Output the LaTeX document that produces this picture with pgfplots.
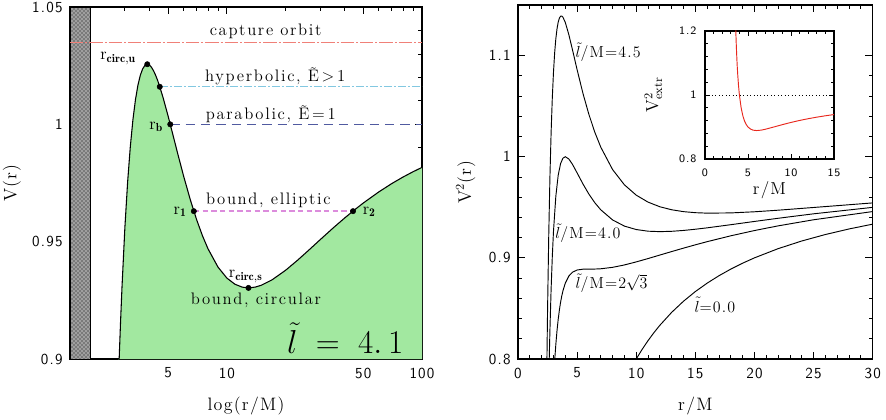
\documentclass[border=0pt]{standalone}
\usepackage{fontspec}
\usepackage{pgfplots}
\pgfplotsset{compat=1.18}
\usepackage{pgfplotstable}
\usetikzlibrary{patterns}
\newfontfamily\spaced[LetterSpace=10]{Latin Modern Roman}
\newfontfamily\spacedb[LetterSpace=7]{Latin Modern Roman}
\newfontfamily\sfspaced[LetterSpace=8]{Latin Modern Sans}
\definecolor{fillgreen}{RGB}{162,232,160}
\definecolor{capt}{RGB}{240,128,120}
\definecolor{hyp}{RGB}{130,200,225}
\definecolor{para}{RGB}{80,90,160}
\definecolor{ell}{RGB}{220,140,220}
\definecolor{redc}{RGB}{232,40,30}

\pgfplotstableread{
r v
2.79 0.89463
2.805 0.90014
2.85 0.91550
2.9 0.93067
3.0 0.95593
3.1 0.97553
3.2 0.99060
3.3 1.00203
3.4 1.01053
3.5 1.01668
3.6 1.02092
3.7 1.02363
3.8 1.02511
3.9 1.02561
4.0 1.02531
4.1 1.02439
4.2 1.02297
4.3 1.02117
4.4 1.01907
4.5 1.01674
4.7 1.01163
5.0 1.00344
5.3 0.99525
5.6 0.98745
6.0 0.97796
6.5 0.96776
7.0 0.95933
7.5 0.95249
8 0.94699
9 0.93919
10 0.93448
11 0.93185
12 0.93061
13 0.93032
14 0.93066
15 0.93142
17 0.93368
20 0.93782
23 0.94206
26 0.94603
30 0.95077
35 0.95580
40 0.95998
45 0.96349
50 0.96646
60 0.97118
70 0.97476
80 0.97756
90 0.97981
100 0.98165
}\leftcurve

\pgfplotstableread{
r v
2.44 0.79368
2.5 0.84800
2.6 0.92205
2.7 0.97942
2.8 1.02369
2.9 1.05761
3.0 1.08333
3.1 1.10255
3.2 1.11658
3.3 1.12647
3.4 1.13307
3.5 1.13703
3.6 1.13889
3.7 1.13908
3.8 1.13796
4.0 1.13281
4.3 1.12068
4.6 1.10613
5.0 1.08600
5.5 1.06236
6.0 1.04167
6.5 1.02412
7.0 1.00948
8 0.98731
9 0.97222
10 0.96200
11 0.95511
12 0.95052
13 0.94754
14 0.94570
15 0.94467
16 0.94421
18 0.94444
20 0.94556
22 0.94713
25 0.94981
30 0.95433
}\lfourfive

\pgfplotstableread{
r v
2.64 0.79896
2.7 0.82828
2.8 0.86881
2.9 0.90078
3.0 0.92593
3.2 0.96094
3.4 0.98168
3.6 0.99314
3.8 0.99854
4.0 1.00000
4.3 0.99774
4.6 0.99260
5.0 0.98400
5.5 0.97295
6.0 0.96296
6.5 0.95448
7.0 0.94752
8 0.93750
9 0.93141
10 0.92800
11 0.92637
12 0.92593
13 0.92626
14 0.92711
15 0.92830
16 0.92969
18 0.93279
20 0.93600
22 0.93914
25 0.94355
30 0.94993
}\lfour

\pgfplotstableread{
r v
3.11 0.79973
3.2 0.81445
3.3 0.82803
3.4 0.83920
3.5 0.84840
3.6 0.85597
3.7 0.86220
3.8 0.86733
4.0 0.87500
4.3 0.88202
4.6 0.88576
5.0 0.88800
5.5 0.88881
6.0 0.88889
6.5 0.88894
7.0 0.88921
8 0.89063
9 0.89300
10 0.89600
11 0.89932
12 0.90278
13 0.90624
14 0.90962
15 0.91289
16 0.91602
18 0.92181
20 0.92700
22 0.93163
25 0.93766
30 0.94578
}\ltwor

\pgfplotstableread{
r v
10 0.80000
10.5 0.80952
11 0.81818
11.5 0.82609
12 0.83333
13 0.84615
14 0.85714
15 0.86667
16 0.87500
17 0.88235
18 0.88889
19 0.89474
20 0.90000
22 0.90909
24 0.91667
26 0.92308
28 0.92857
30 0.93333
}\lzero

\pgfplotstableread{
r v
3.58 1.20227
3.6 1.18519
3.65 1.14752
3.7 1.11583
3.75 1.08889
3.8 1.06579
3.9 1.02849
4.0 1.00000
4.2 0.96032
4.4 0.93507
4.6 0.91848
4.8 0.90741
5.0 0.90000
5.3 0.89336
5.6 0.89011
6.0 0.88889
6.5 0.89011
7 0.89286
8 0.90000
9 0.90741
10 0.91429
11 0.92045
12 0.92593
13 0.93077
14 0.93506
15 0.93889
}\vextr

\pgfplotsset{
  myax/.style={
    scale only axis,
    axis line style={line width=0.9pt},
    tick align=inside, tick pos=both,
    major tick length=5.5pt, minor tick length=3pt,
    every tick/.style={black, line width=0.6pt},
    tick label style={font=\sfspaced\fontsize{11.5}{13}\selectfont},
    xticklabel style={yshift=-3pt},
    yticklabel style={xshift=-2pt},
    label style={font=\spacedb\fontsize{13.5}{15}\selectfont},
  },
}
\tikzset{txt/.style={font=\spaced\fontsize{12.5}{14}\selectfont, inner sep=0pt},
         txtb/.style={font=\spacedb\fontsize{12}{14}\selectfont, inner sep=0pt}}

\begin{document}
\begin{tikzpicture}
% ---------------- left panel ----------------
\begin{axis}[myax,
  at={(52.5pt,45pt)}, anchor=south west,
  width=264pt, height=264pt,
  xmode=log, xmin=1.57, xmax=100, ymin=0.9, ymax=1.05,
  xtick={5,10,50,100}, xticklabels={5,10,50,100},
  minor xtick={3,4,6,7,8,9,20,30,40,60,70,80,90},
  ytick={0.9,0.95,1,1.05}, yticklabels={0.9,0.95,1,1.05},
  minor ytick={0.91,0.92,0.93,0.94,0.96,0.97,0.98,0.99,1.01,1.02,1.03,1.04},
  xlabel={log(r/M)}, ylabel={V(r)},
  xlabel style={at={(axis description cs:0.5,0)}, anchor=center, yshift=-35pt},
  ylabel style={at={(axis description cs:-0.165,0.5)}, anchor=center},
]
\addplot[draw=black, line width=0.6pt, fill=gray!75, postaction={pattern=crosshatch dots, pattern color=black}]
  coordinates {(1.57,1.05) (2,1.05)} \closedcycle;
\addplot[draw=none, fill=fillgreen] table[x=r,y=v] {\leftcurve} \closedcycle;
\addplot[black, line width=0.8pt] table[x=r,y=v] {\leftcurve};
\addplot[capt, line width=1pt, dash pattern=on 10pt off 1.5pt on 1.5pt off 1.5pt] coordinates {(1.57,1.035) (100,1.035)};
\addplot[hyp, line width=1pt, dash pattern=on 6pt off 1.5pt on 1.5pt off 1.5pt] coordinates {(4.529,1.016) (100,1.016)};
\addplot[para, line width=1pt, dash pattern=on 7pt off 4.5pt] coordinates {(5.125,1) (100,1)};
\addplot[ell, line width=1pt, dash pattern=on 4pt off 2.5pt] coordinates {(6.77,0.963) (44.3,0.963)};
\addplot[only marks, mark=*, mark size=2pt, black] coordinates {
  (3.909,1.02561) (4.529,1.016) (5.125,1) (6.77,0.963) (44.3,0.963) (12.9,0.9303)};
\node[txt] at (axis cs:15.8,1.0395) {capture orbit};
\node[txt] at (axis cs:17.7,1.0206) {hyperbolic, Ẽ\,>\,1};
\node[txt] at (axis cs:16.8,1.0043) {parabolic, Ẽ\,=\,1};
\node[txt] at (axis cs:16.3,0.9678) {bound, elliptic};
\node[txt] at (axis cs:14.1,0.9251) {bound, circular};
\node[txt] at (axis cs:12.5,0.9351) {r$_{\mathbf{circ,s}}$};
\node[txt] at (axis cs:2.77,1.0281) {r$_{\mathbf{circ,u}}$};
\node[txt] at (axis cs:4.34,0.999) {r$_{\mathbf{b}}$};
\node[txt] at (axis cs:5.76,0.9628) {r$_{\mathbf{1}}$};
\node[txt] at (axis cs:53.7,0.9628) {r$_{\mathbf{2}}$};
\node[inner sep=0pt, anchor=east, font=\fontsize{23}{25}\selectfont] at (axis cs:80.4,0.9088) {$\tilde{l}\;=\;4.\,1$};
\end{axis}

% ---------------- right panel ----------------
\begin{axis}[myax,
  at={(388.5pt,45pt)}, anchor=south west,
  width=266pt, height=265.5pt,
  xmin=0, xmax=30, ymin=0.8, ymax=1.15,
  xtick={0,5,10,15,20,25,30}, xticklabels={0,5,10,15,20,25,30},
  minor x tick num=4,
  ytick={0.8,0.9,1,1.1}, yticklabels={0.8,0.9,1,1.1},
  minor y tick num=4,
  xlabel={r/M}, ylabel={V$^2$(r)},
  xlabel style={at={(axis description cs:0.5,0)}, anchor=center, yshift=-35pt},
  ylabel style={at={(axis description cs:-0.147,0.5)}, anchor=center},
]
\addplot[black, line width=0.7pt] table[x=r,y=v] {\lfourfive};
\addplot[black, line width=0.7pt] table[x=r,y=v] {\lfour};
\addplot[black, line width=0.7pt] table[x=r,y=v] {\ltwor};
\addplot[black, line width=0.7pt] table[x=r,y=v] {\lzero};
\node[txtb] at (axis cs:7.63,1.1036) {$\tilde{l}$/M=4.5};
\node[txtb] at (axis cs:5.92,0.9244) {$\tilde{l}$/M=4.0};
\node[txtb] at (axis cs:7.91,0.875) {$\tilde{l}$/M=2$\sqrt{3}$};
\node[txtb] at (axis cs:16.65,0.8536) {$\tilde{l}$=0.0};
\end{axis}

% ---------------- inset ----------------
\begin{axis}[myax,
  at={(528.75pt,195pt)}, anchor=south west,
  width=96.75pt, height=96pt,
  axis background/.style={fill=white},
  xmin=0, xmax=15, ymin=0.8, ymax=1.2,
  xtick={0,5,10,15}, xticklabels={0,5,10,15},
  minor x tick num=4,
  ytick={0.8,1,1.2}, yticklabels={0.8,1,1.2},
  minor y tick num=4,
  major tick length=4pt, minor tick length=2pt,
  tick label style={font=\sfspaced\fontsize{8.5}{10}\selectfont},
  xticklabel style={yshift=-1pt},
  yticklabel style={xshift=-1pt},
  xlabel={r/M}, ylabel={V$^2_{\mathrm{extr}}$},
  label style={font=\spacedb\fontsize{13}{15}\selectfont},
  xlabel style={at={(axis description cs:0.5,-0.24)}, anchor=center},
  ylabel style={at={(axis description cs:-0.40,0.5)}, anchor=center},
]
\addplot[black, line width=0.6pt, dotted] coordinates {(0,1) (15,1)};
\addplot[redc, line width=0.7pt] table[x=r,y=v] {\vextr};
\end{axis}

\pgfresetboundingbox
\useasboundingbox (0,0) rectangle (664.5pt,314.25pt);
\end{tikzpicture}
\end{document}
